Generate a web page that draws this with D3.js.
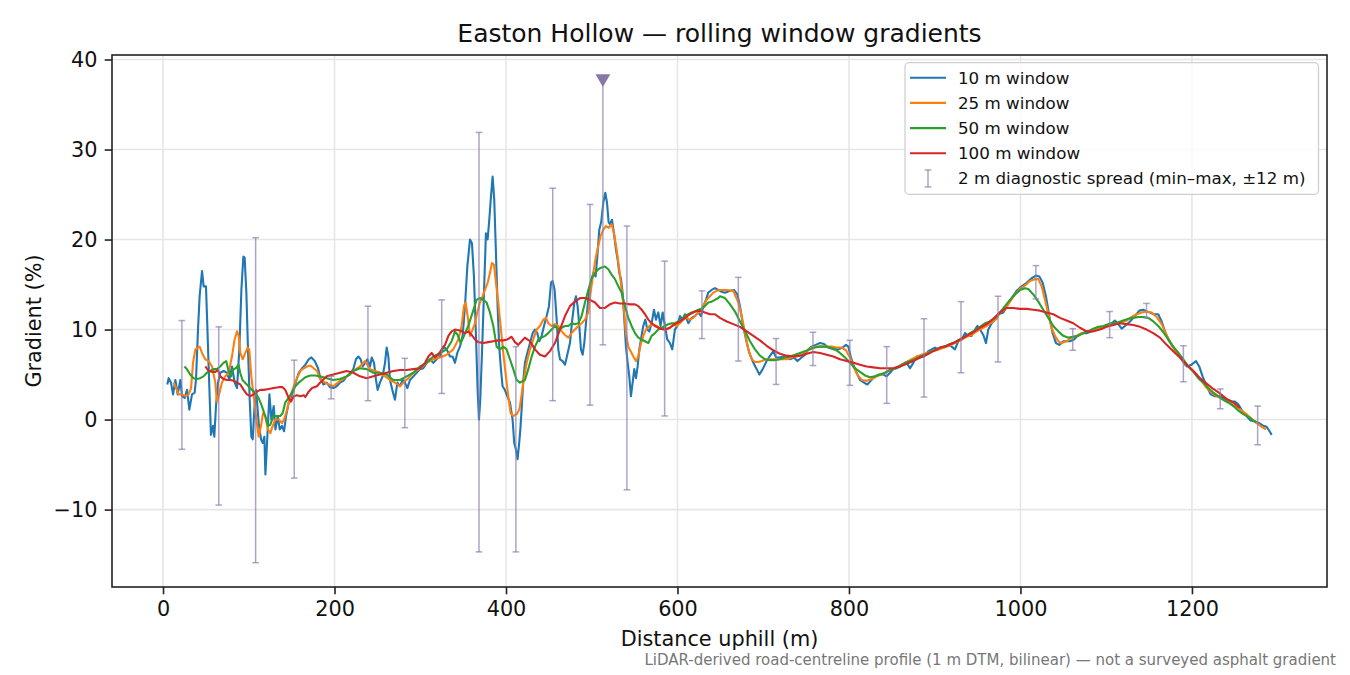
<!DOCTYPE html>
<html>
<head>
<meta charset="utf-8">
<script src="https://cdn.jsdelivr.net/npm/d3@7"></script>
<style>
  body { margin: 0; background: #fff; }
  svg { display: block; }
  text { font-family: "DejaVu Sans", sans-serif; }
</style>
</head>
<body>
<div id="chart"></div>
<script>
"use strict";

// ---- data: [distance m, gradient %] ----
var win10 = [[5,3.9],[6.6,4.6],[9.3,4.1],[11.7,2.8],[14.4,4.4],[17.1,2.8],[20.2,4.4],[22.2,2.6],[25.3,2.4],[28,3.3],[30.7,1.1],[33.8,2.8],[36.9,3.0],[38.5,4.5],[40.8,10],[42.7,13.7],[45.5,16.5],[47.4,14.8],[50.1,14.8],[51.3,11.5],[53.2,5.9],[55.9,-1.7],[58.3,-0.7],[59.8,-1.9],[61.8,1.5],[64.1,4.1],[66.8,5.2],[70.7,5.4],[74.6,5.2],[77.3,4.4],[80.5,5.9],[83.6,4.1],[86.3,3.5],[89,7.8],[91.4,14.4],[93.7,18.1],[95.2,18],[97.2,14.1],[99.1,7.8],[101.1,2.2],[103,-1.9],[104.6,-2.2],[106.5,1.1],[108.5,3.3],[111.6,-0.4],[114.3,-2.2],[116.3,-2.6],[118.2,-1.9],[119.4,-6.1],[121.3,-2.6],[124.1,2.8],[126.4,0],[129.1,1.5],[131.1,-1.1],[133.8,0.4],[136.1,-1.1],[138.8,-0.7],[141.2,-1.3],[143.5,0.4],[146.6,1.9],[149.7,2.6],[152.5,3.3],[155.6,4.4],[158.3,5.2],[162.2,5.7],[166.1,6.1],[169.9,6.7],[173,6.9],[176.9,6.5],[180.8,5.7],[183.5,4.6],
  [187,3.9],[190.9,4.1],[194.7,3.6],[198.6,3.5],[202.5,3.7],[206.4,4.1],[210.3,4.3],[214.2,4.8],[218.1,5.0],[221.9,5.6],[225,6.7],[227.8,7.0],[230.5,6.7],[232.8,5.9],[235.6,6.3],[238.3,6.7],[241.4,5.9],[243.4,6.9],[246.1,6.3],[248.4,4.4],[250.3,3.3],[253,4.1],[256.1,4.8],[258.9,6.3],[260.8,8.0],[262.8,7.0],[264.7,4.4],[267.4,3.3],[270.5,2.2],[273.3,4.1],[276.4,3.7],[279.5,4.4],[282.2,4.1],[284.9,3.5],[288,4.4],[291.9,4.8],[295.8,5.2],[299.7,5.6],[303.6,5.7],[307.5,6.3],[311.3,6.7],[315.2,6.3],[319.1,6.7],[323,7.0],[326.9,8.1],[330.8,7.8],[334.7,7.0],[337.8,7.0],[340.5,6.3],[343.2,7.4],[346.3,8.1],[349.4,9.3],[352.2,12.6],[354.9,17],[358,20],[360.3,19.6],[362.6,15.9],[365,9.3],[366.9,3.3],[368.5,0],[370,2.2],[372.4,8.5],[374.7,15.2],[376.6,20.7],[378.6,20],[380.5,22.2],[382.5,24.8],[384.4,27],[386.3,24.4],[388.3,18.5],[390.2,12.6],[392.1,8.1],[394.1,5.6],[396,3.7],[398.7,3.3],[401.4,2.6],[404.6,1.9],[407.7,0],[409.6,-2.6],[411.5,-3.3],[413.5,-4.4],[415.4,-2.6],
  [416.8,-1.0],[418.2,1.1],[420.2,4.4],[422.1,6.3],[424.9,7.4],[428,8.5],[431.1,9.6],[433.8,10],[436.5,9.6],[438.8,8.7],[441.6,9.3],[444.3,10.4],[447.4,11.5],[450.1,12.6],[452.5,15.2],[454.4,15.4],[456.7,14.4],[459.1,11.1],[461,7.8],[463,6.7],[466.1,6.5],[468.8,6.1],[471.5,7.2],[474.6,8.5],[477.3,11.1],[479.7,13],[481.6,13.7],[483.5,12.6],[485.5,10.4],[487.4,7.8],[489.4,7.2],[491.3,8.5],[494,11.5],[496.8,14.1],[499.1,15.2],[501.8,16.3],[504.5,15.9],[506.5,18.1],[508.8,21.1],[511.1,22],[513.5,24.1],[515.8,25.2],[517.8,24.1],[519.7,21.9],[521.2,21.7],[523.6,22.2],[525.9,20.7],[528.2,18.9],[530.2,17.8],[532.1,16.3],[534.1,15.6],[536,14.1],[538,11.1],[539.9,8.1],[541.9,6.3],[543.8,4.8],[545.7,2.6],[547.7,4.1],[549.6,5.6],[551.6,4.6],[553.5,5.9],[555.5,7.8],[557.4,8.9],[560.1,10.4],[562.5,11.1],[564.8,10],[567.1,9.8],[569.8,10.7],[572.6,12.2],[574.9,11.1],[577.6,11.9],[580.3,10.4],[582.7,11.9],[585.4,10.4],[588.1,8.9],[591.2,8.5],[593.9,7.8],[597,10],[599.8,10.4],[602.9,11.5],[605.6,11.1],[608.7,11.7],[612.6,10.7],[616.5,11.3],[620.4,11.5],[624.3,11.9],[627.4,11.5],[630.1,12.6],[633.2,13.3],[635.9,14.1],[639.8,14.4],[643.7,14.6],[647.6,14.4],
  [651.5,14.2],[655.4,14.1],[661.3,14.3],[665.9,14.4],[669.8,13.9],[672.9,12.6],[676,10.7],[679.9,8.9],[683.8,7.4],[688.5,6.3],[692.4,5.6],[695.5,5.0],[699.4,5.6],[704,6.5],[708.7,7.2],[711.8,7.6],[714.9,6.9],[718.8,6.9],[723.5,7.0],[727.3,6.9],[731.2,6.7],[735.9,6.9],[739.8,6.5],[744.8,6.9],[748.7,7.2],[752.6,7.8],[756.5,8.1],[761.2,8.3],[766.2,8.5],[770.9,8.4],[775.9,8.0],[781.8,7.8],[787.6,7.8],[792.6,8.0],[796.5,8.3],[799.3,8.1],[802,7.0],[805.1,6.1],[809,5.2],[812.9,4.4],[817.5,4.1],[821.4,3.9],[825.3,4.3],[830.3,4.8],[835.4,5.0],[840.1,5.0],[843.9,4.8],[847.8,5.2],[851.7,5.6],[855.6,5.7],[859.5,5.9],[863.4,6.1],[867.3,6.3],[871.2,5.7],[875,6.3],[878.9,7.0],[882.8,6.9],[887.5,7.0],[892.5,7.6],[896.4,7.8],[900.3,8.0],[904.2,7.8],[908.1,8.0],[912,8.1],[915.9,8.3],[919.7,8.1],[923.6,7.8],[927.5,8.7],[931.4,8.9],[935.3,9.6],[939.2,9.3],[943.1,9.3],[947,10],[949.7,10.4],[952.8,10],[956.7,9.4],[959.8,8.5],[962.5,10],[966.4,10.7],[970.3,11.1],[974.2,11.7],
  [980,11.9],[983.9,12.6],[989.7,13.5],[995.5,14.3],[1001.4,14.8],[1007.2,15.2],[1013,15.7],[1018.1,16.0],[1022,15.9],[1025.9,15.2],[1029.7,13.7],[1033.6,11.5],[1037.5,9.6],[1041.4,8.5],[1045.3,8.3],[1050,8.7],[1053.8,8.7],[1057.7,8.7],[1062.4,8.9],[1067.4,9.4],[1072.5,9.6],[1077.2,9.6],[1083,9.8],[1088.8,10],[1094.7,10.1],[1100.5,10.4],[1106.3,10.7],[1110.2,11],[1114.1,10.6],[1118,10.1],[1121.9,10.4],[1127.7,10.9],[1133.5,11.5],[1138.6,12.1],[1143.2,12.2],[1147.1,12],[1151,11.9],[1155.7,11.7],[1160.7,11.7],[1164.6,10.9],[1168.5,9.8],[1172.4,8.9],[1176.3,8.3],[1180.2,7.8],[1184.1,7.4],[1189.1,6.5],[1193.8,5.9],[1199.6,6.1],[1204.7,6.5],[1208.5,5.9],[1212.4,4.8],[1217.1,3.7],[1221.8,2.8],[1226.8,2.6],[1231.9,2.6],[1236.5,2.4],[1241.2,2.2],[1246.2,2.0],[1250.1,2.0],[1254,1.7],[1259.1,0.9],[1263.7,0.4],[1268.4,-0.1],[1273.4,-0.2],[1278.5,-0.4],[1283.2,-0.7],[1287.1,-0.8],[1290.5,-1.3],[1293,-1.7]];

var win25 = [[12.5,4.1],[14.4,3.7],[18.3,2.8],[22.2,2.8],[26.1,2.6],[29.9,2.8],[32.7,3.5],[35,6.3],[37.7,7.8],[40.8,8.0],[42.7,8.1],[45.5,7.4],[49.3,6.7],[53.2,6.5],[57.1,5.9],[61,4.1],[62.9,2.0],[64.9,2.6],[68.7,4.1],[72.6,4.8],[76.5,5.2],[80.4,7.0],[83.5,8.9],[86.3,9.8],[88.2,9.3],[90.1,7.4],[92.9,6.7],[96,7.4],[98.7,8.0],[100.6,7.8],[103,4.8],[105.7,2.6],[108.4,0.4],[111.5,-1.9],[114.3,-0.7],[116.6,0.7],[119.3,0.4],[122.4,-1.1],[125.2,-1.5],[127.9,-0.7],[131,0],[134.9,0],[138.8,-0.4],[141.9,0.2],[144.6,1.1],[148.5,2.6],[152.4,3.7],[156.3,4.6],[160.2,5.4],[164.1,5.7],[168,5.9],[171.8,6.0],[175.7,5.7],[179.6,5.4],
  [183.1,4.5],[190.9,4.0],[198.6,3.7],[206.4,4.3],[214.2,4.8],[221.9,5.4],[229.7,5.9],[235.6,6.5],[241.4,5.6],[247.2,5.4],[253,5.2],[258.9,4.8],[264.7,4.4],[270.5,4.1],[276.4,3.7],[280.3,4.1],[286.1,4.6],[291.9,5.2],[299.7,5.7],[307.5,6.3],[315.2,6.7],[323,6.9],[330.8,7.2],[338.5,7.8],[344.4,8.9],[348.3,10.4],[351,12.6],[352.9,13.0],[355.3,11.5],[358,9.3],[361.1,10.0],[363.8,10.7],[366.5,11.9],[369.6,13.0],[372.7,13.7],[375.5,14.4],[378.6,15.2],[381.3,16.3],[383.6,17.4],[386,17.2],[388.3,15.2],[391,13.0],[393.7,10.4],[396.8,7.4],[399.9,4.8],[402.6,2.6],[405.4,0.7],[408.5,0.4],[412.4,0.6],[415.4,1.1],
  [416.3,1.5],[420.2,4.1],[424.1,6.3],[428,7.8],[431.8,8.9],[435.7,10.0],[439.6,10.4],[443.5,11.1],[446.6,11.3],[449.3,10.7],[453.2,10.4],[457.1,10.6],[461,10.4],[464.9,9.8],[468.8,9.4],[472.7,9.1],[476.5,9.6],[480.4,10.0],[484.3,10.4],[488.2,10.7],[492.1,11.1],[496,11.9],[498.7,14.1],[501.8,16.3],[504.9,18.1],[507.6,19.3],[510.4,20.4],[513.5,21.1],[516.6,21.5],[519.7,21.3],[523.2,21.7],[525.9,20.7],[529,18.9],[532.1,16.7],[534.9,14.4],[537.6,12.2],[539.9,9.6],[542.6,8.1],[545.4,7.6],[548.5,7.0],[551.6,6.5],[554.3,7.0],[557,8.3],[560.1,9.3],[563.2,10.0],[567.1,10.4],[571,10.6],[575.7,10.4],[579.6,10.2],[583.4,10.0],[587.3,10.0],[591.2,10.2],[595.1,10.6],[599,10.4],[602.9,10.7],[606.8,11.1],[610.7,11.3],[614.5,11.1],[618.4,11.3],[622.3,11.7],[626.2,12.0],[630.1,12.6],[634,13.3],[637.9,13.7],[641.7,14.1],[645.6,14.3],
  [649.6,14.4],[657.4,14.4],[665.1,14.3],[671,13.0],[674.9,11.5],[678.8,9.6],[682.6,7.8],[686.5,6.7],[690.4,6.4],[694.3,6.4],[698.2,6.5],[704,6.7],[709.8,6.7],[715.7,6.7],[721.5,6.7],[727.3,6.7],[733.2,6.9],[739,7.0],[744.8,7.2],[750.7,7.6],[756.5,8.0],[762.3,8.1],[768.2,8.1],[774,8.1],[779.8,8.1],[785.6,8.0],[791.5,8.0],[796.5,7.7],[801.2,6.9],[805.1,5.9],[809.7,5.0],[814.8,4.4],[820.6,4.3],[826.5,4.5],[832.3,4.8],[838.1,5.0],[843.9,5.3],[849.8,5.6],[855.6,5.8],[861.4,6.1],[867.3,6.4],[873.1,6.7],[878.9,7.0],[884.8,7.2],[890.6,7.4],[896.4,7.6],[902.3,7.7],[908.1,7.9],[913.9,8.1],[919.7,8.3],[925.6,8.6],[931.4,8.9],[937.2,9.2],[943.1,9.4],[948.9,9.8],[954.7,10.1],[960.6,10.4],[966.4,10.8],[972.2,11.2],
  [976.1,11.9],[981.9,12.2],[987.8,13.1],[993.6,13.9],[999.4,14.5],[1005.3,14.9],[1011.1,15.4],[1016.9,15.6],[1020.8,15.6],[1024.7,14.8],[1028.6,13.3],[1032.5,11.7],[1036.3,10.2],[1040.2,9.3],[1044.1,8.7],[1048,8.5],[1053.8,8.7],[1059.7,9.1],[1065.5,9.3],[1071.3,9.6],[1077.2,9.8],[1083,9.9],[1088.8,10.1],[1094.7,10.2],[1100.5,10.4],[1106.3,10.6],[1112.1,10.7],[1118,10.8],[1123.8,11.0],[1129.6,11.4],[1135.5,11.7],[1141.3,11.9],[1147.1,12.0],[1153,11.9],[1158.8,11.4],[1164.6,10.6],[1170.5,9.4],[1176.3,8.3],[1182.1,7.4],[1187.9,6.7],[1193.8,6.1],[1199.6,5.6],[1205.4,5.0],[1211.3,4.3],[1217.1,3.5],[1222.9,3.0],[1228.8,2.6],[1234.6,2.3],[1240.4,2.0],[1246.3,1.7],[1252.1,1.4],[1257.9,1.0],[1263.7,0.6],[1269.6,0.1],[1275.4,-0.4],[1281.2,-0.8],[1286.5,-1.1]];

var win50 = [[25,5.9],[27.8,5.6],[31.7,5.0],[35.6,4.6],[39.5,4.5],[43.3,4.6],[47.2,4.8],[51.1,5.2],[55,5.4],[58.9,5.6],[62.8,5.6],[66.7,5.9],[70.5,6.3],[73.7,6.5],[76.4,5.4],[79.5,4.8],[82.2,5.6],[84.9,5.7],[88.1,6.1],[90,5.2],[92.7,4.4],[95.8,4.1],[99.7,3.7],[103.6,3.3],[107.5,3.0],[111.4,2.4],[115.3,1.5],[119.2,0.4],[122.3,-0.7],[125,-0.6],[128.9,0.4],[132.8,0.4],[136.7,0.4],[139.5,0.7],[142.6,1.9],[146.5,2.4],[150.4,3.0],[154.3,3.7],[158.2,4.1],[162.1,4.4],[166,4.7],[171.8,4.9],[177.7,4.9],
  [183.1,4.8],[190.9,4.6],[198.6,4.4],[206.4,4.5],[214.2,4.8],[221.9,5.4],[229.7,5.7],[237.5,5.6],[245.3,5.2],[253,5.2],[260.8,5.0],[268.6,4.4],[276.4,4.4],[284.1,4.8],[291.9,5.2],[299.7,5.9],[307.5,6.3],[315.2,7.0],[323,7.4],[330.8,7.8],[336.6,8.7],[340.5,9.8],[343.6,9.4],[347.1,8.5],[351,9.3],[356,10.4],[361.1,11.9],[365.7,13.3],[369.6,13.5],[373.5,13.3],[377.4,13.0],[381.3,11.9],[385.2,10.4],[389.1,8.1],[392.9,7.8],[396.8,8.1],[400.7,7.8],[404.6,6.7],[408.5,5.6],[412.4,4.4],[416.3,4.1],
  [422.1,4.4],[426,5.6],[429.9,7.0],[433.8,8.1],[437.7,8.9],[441.6,9.1],[445.5,9.3],[449.3,9.6],[453.2,10.0],[457.1,10.4],[461,10.0],[464.9,10.2],[468.8,10.4],[472.7,10.4],[476.5,10.7],[480.4,10.6],[484.3,10.7],[488.2,11.5],[492.1,13.0],[496,14.4],[499.9,15.7],[503.8,16.3],[507.6,16.7],[511.5,16.9],[515.4,17.0],[519.3,16.7],[523.2,16.1],[527.1,15.6],[531,14.8],[534.9,14.1],[538.7,12.6],[542.6,11.3],[546.5,10.4],[550.4,9.6],[554.3,9.1],[558.2,8.9],[562.1,8.7],[566,8.5],[569.8,9.3],[573.7,9.6],[577.6,10.0],[581.5,10.2],[585.4,10.4],[589.3,10.6],[593.2,10.7],[597,10.7],[600.9,10.9],[604.8,11.1],[608.7,11.5],[612.6,11.7],[616.5,11.9],[620.4,12.0],[624.3,12.2],[628.1,12.3],[632,12.6],[635.9,13.0],[639.8,13.1],[643.7,13.3],[647.6,13.5],
  [649.6,13.7],[655.4,13.5],[661.3,12.8],[667.1,12.0],[672.9,10.9],[678.8,9.8],[684.6,8.7],[690.4,7.8],[696.2,7.1],[702.1,6.7],[707.9,6.6],[713.7,6.6],[719.6,6.7],[725.4,6.9],[731.2,7.0],[737.1,7.2],[742.9,7.4],[748.7,7.6],[754.5,7.8],[760.4,8.0],[766.2,8.1],[772,8.1],[777.9,8.0],[783.7,7.8],[789.5,7.4],[795.4,6.9],[801.2,6.3],[807,5.7],[812.9,5.3],[818.7,4.9],[824.5,4.7],[830.3,4.8],[836.2,5.0],[842,5.2],[847.8,5.5],[853.7,5.7],[859.5,6.0],[865.3,6.3],[871.2,6.5],[877,6.7],[882.8,7.0],[888.7,7.2],[894.5,7.5],[900.3,7.7],[906.1,8.0],[912,8.1],[917.8,8.4],[923.6,8.6],[929.5,8.9],[935.3,9.2],[941.1,9.6],[947,9.9],[952.8,10.3],[958.6,10.7],[964.5,10.9],[970.3,11.3],
  [976.1,11.9],[981.9,12.6],[987.8,13.3],[993.6,13.9],[999.4,14.4],[1005.3,14.6],[1009.1,14.5],[1015,13.9],[1020.8,13.1],[1026.6,12.2],[1032.5,11.3],[1038.3,10.4],[1044.1,9.8],[1050,9.3],[1055.8,9.1],[1061.6,9.2],[1067.4,9.3],[1073.3,9.6],[1079.1,9.8],[1084.9,10.1],[1090.8,10.3],[1096.6,10.4],[1102.4,10.6],[1108.3,10.7],[1114.1,10.8],[1119.9,11.0],[1125.8,11.2],[1131.6,11.3],[1137.4,11.4],[1143.2,11.4],[1149.1,11.3],[1154.9,10.9],[1160.7,10.4],[1166.6,9.7],[1172.4,8.9],[1178.2,8.1],[1184.1,7.4],[1189.9,6.7],[1195.7,5.9],[1201.6,5.3],[1207.4,4.6],[1213.2,4.1],[1219,3.5],[1224.9,3.0],[1230.7,2.6],[1236.5,2.2],[1242.4,1.9],[1248.2,1.5],[1254,1.0],[1259.9,0.6],[1265.7,0.3],[1271.5,-0.1],[1275,-0.3]];

var win100 = [[49.3,5.9],[53.2,5.4],[57.1,5.3],[61,5.3],[64.1,5.5],[66.8,4.8],[70.7,4.5],[74.6,4.4],[78.5,4.4],[82.4,4.3],[86.3,4.1],[90.2,3.9],[94.1,3.3],[97.9,2.8],[101.8,2.6],[105.7,2.8],[109.6,3.1],[113.5,3.3],[117.4,3.3],[123.2,3.4],[129,3.5],[134.9,3.6],[139.5,3.6],[142.6,3.3],[146.5,2.4],[149.3,2.0],[152.4,2.6],[156.3,2.7],[160.2,2.6],[164.1,2.7],[166,2.5],[169.9,3.1],[173.8,3.5],[179.6,3.7],
  [183.1,4.1],[190.9,4.8],[198.6,5.0],[206.4,5.2],[214.2,5.4],[221.9,5.2],[229.7,4.8],[237.5,4.6],[245.3,4.8],[253,5.0],[260.8,5.2],[268.6,5.4],[276.4,5.5],[284.1,5.5],[291.9,5.6],[299.7,5.7],[305.6,6.3],[309.5,7.0],[313.3,7.4],[317.2,6.9],[321.1,7.2],[325,7.8],[328.9,8.3],[332.8,9.3],[336.6,9.8],[340.5,10.0],[346.3,9.9],[352.2,9.6],[356,9.8],[359.9,9.4],[363.8,8.9],[367.7,8.6],[373.5,8.5],[379.4,8.6],[385.2,8.7],[391,8.8],[396.8,8.8],[401.5,8.9],[406.5,9.2],[410.4,8.6],[414.3,8.3],
  [416.3,8.5],[422.1,9.1],[428,8.7],[433.8,7.8],[439.6,7.2],[445.5,7.0],[451.3,7.6],[457.1,8.5],[462.9,10.0],[468.8,11.5],[474.6,12.6],[480.4,13.1],[486.3,13.5],[492.1,13.5],[497.9,13.3],[503.8,13.0],[509.6,12.4],[515.4,12.4],[521.2,12.8],[527.1,13.0],[532.9,12.9],[538.7,12.9],[544.6,12.8],[550.4,12.8],[554.3,12.6],[558.2,12.2],[562.1,11.7],[566,11.1],[569.8,10.7],[573.7,10.4],[579.6,10.1],[585.4,10.0],[591.2,10.2],[597,10.6],[602.9,10.9],[608.7,11.3],[614.5,11.7],[620.4,12.0],[626.2,12.1],[632,11.9],[637.9,11.7],[643.7,11.7],[649.5,11.3],
  [657.4,10.9],[665.1,10.6],[672.9,10.3],[680.7,9.8],[688.5,9.3],[696.2,8.8],[704,8.2],[711.8,7.7],[719.6,7.3],[727.3,7.1],[735.1,7.0],[742.9,7.1],[750.7,7.3],[758.4,7.5],[766.2,7.4],[774,7.2],[781.8,7.0],[789.5,6.7],[797.3,6.5],[805.1,6.3],[812.9,6.1],[820.6,5.9],[828.4,5.8],[836.2,5.7],[844,5.7],[851.7,5.7],[859.5,5.9],[867.3,6.2],[875,6.5],[882.8,6.9],[890.6,7.2],[898.4,7.6],[906.1,8.0],[913.9,8.2],[921.7,8.5],[929.5,8.9],[937.2,9.3],[945,9.7],[952.8,10.2],[960.6,10.6],[968.3,11.2],[976.1,11.9],
  [983.9,12.4],[991.6,12.4],[999.4,12.3],[1007.2,12.3],[1015,12.2],[1022.7,12.1],[1030.5,11.9],[1038.3,11.7],[1046.1,11.3],[1053.8,11.0],[1061.6,10.7],[1069.4,10.2],[1077.2,9.8],[1084.9,9.8],[1092.7,10.0],[1100.5,10.3],[1108.3,10.5],[1116,10.7],[1123.8,10.6],[1131.6,10.5],[1139.4,10.3],[1147.1,10.0],[1154.9,9.6],[1162.7,9.1],[1170.5,8.3],[1178.2,7.6],[1186,6.9],[1193.8,6.1],[1201.6,5.4],[1209.3,4.6],[1217.1,4.0],[1224.9,3.4],[1232.6,2.9],[1240.4,2.3],[1248.2,1.9],[1256,1.3]];

// 2 m diagnostic spread, min/max over +-12 m
var spreadDist = [22, 65, 108, 153, 196, 239, 282, 325, 368.5, 411.5, 454.5, 498, 513, 541, 585, 628.5, 671, 715, 758, 801, 844, 887.5, 930.6, 973.8, 1018, 1061, 1104, 1147, 1190, 1233, 1276.6];
var spreadMin  = [-3.3, -9.5, -15.9, -6.5, 2.3, 2.1, -0.9, 2.9, -14.7, -14.7, 2.1, 1.6, 8.3, -7.8, 0.4, 9.0, 6.5, 3.9, 6.0, 3.8, 1.8, 2.5, 5.2, 6.4, 13.4, 7.7, 9.1, 11.3, 4.2, 1.2, -2.8];
var spreadMax  = [11.0, 10.3, 20.2, 6.6, 4.8, 12.6, 6.8, 13.3, 31.9, 8.1, 25.7, 23.9, 37.9, 21.5, 17.6, 14.3, 15.8, 9.0, 9.7, 8.8, 8.1, 11.2, 13.1, 13.7, 17.1, 10.1, 12.0, 12.9, 8.2, 3.4, 1.5];
// spread that runs off the top: marked with a triangle
var clippedDist = [513];
var clippedAt = [37.9];

var series = [
  {name: "10 m window", data: win10, color: "#1f77b4"},
  {name: "25 m window", data: win25, color: "#ff7f0e"},
  {name: "50 m window", data: win50, color: "#2ca02c"},
  {name: "100 m window", data: win100, color: "#d62728"}
];
var xTicks = [0, 200, 400, 600, 800, 1000, 1200];
var yTicks = [-10, 0, 10, 20, 30, 40];

var W = 1350, H = 675;
var plot = {left: 112, right: 1327, top: 55, bottom: 587};
var spreadColor = "#8c7db0";

var svg = d3.select("#chart").append("svg")
    .attr("width", W).attr("height", H);

var x = d3.scaleLinear().domain([-59.5, 1357.5]).range([plot.left, plot.right]);
var y = d3.scaleLinear().domain([-18.6, 40.5]).range([plot.bottom, plot.top]);

// grid
var grid = svg.append("g").attr("stroke", "#e6e6e6").attr("stroke-width", 1.6);
grid.selectAll("line.gx").data(xTicks).enter().append("line")
    .attr("x1", d => x(d)).attr("x2", d => x(d))
    .attr("y1", plot.top).attr("y2", plot.bottom);
grid.selectAll("line.gy").data(yTicks).enter().append("line")
    .attr("y1", d => y(d)).attr("y2", d => y(d))
    .attr("x1", plot.left).attr("x2", plot.right);

svg.append("clipPath").attr("id", "clip").append("rect")
    .attr("x", plot.left).attr("y", plot.top)
    .attr("width", plot.right - plot.left).attr("height", plot.bottom - plot.top);

var inner = svg.append("g").attr("clip-path", "url(#clip)");

var line = d3.line().x(d => x(d[0])).y(d => y(d[1]));
inner.selectAll("path.win").data(series).enter().append("path")
    .attr("class", "win")
    .attr("d", d => line(d.data))
    .attr("fill", "none")
    .attr("stroke", d => d.color)
    .attr("stroke-width", 2.1)
    .attr("stroke-linejoin", "round");

// error bars
var spreads = spreadDist.map(function(d, i) { return {x: d, lo: spreadMin[i], hi: spreadMax[i]}; });
var eb = inner.append("g").attr("stroke", spreadColor).attr("stroke-opacity", 0.7).attr("stroke-width", 1.5);
eb.selectAll("line.bar").data(spreads).enter().append("line")
    .attr("x1", d => x(d.x)).attr("x2", d => x(d.x))
    .attr("y1", d => y(d.lo)).attr("y2", d => y(d.hi));
var cap = 3.3;
eb.selectAll("line.lo").data(spreads).enter().append("line")
    .attr("x1", d => x(d.x) - cap).attr("x2", d => x(d.x) + cap)
    .attr("y1", d => y(d.lo)).attr("y2", d => y(d.lo));
eb.selectAll("line.hi").data(spreads).enter().append("line")
    .attr("x1", d => x(d.x) - cap).attr("x2", d => x(d.x) + cap)
    .attr("y1", d => y(d.hi)).attr("y2", d => y(d.hi));

var tri = d3.symbol().type(d3.symbolTriangle).size(95);
inner.selectAll("path.clip").data(clippedDist).enter().append("path")
    .attr("d", tri)
    .attr("transform", (d, i) => "translate(" + x(d) + "," + y(clippedAt[i]) + ") rotate(180)")
    .attr("fill", "#8878aa");

// axes
var fs = 20.8;
var xAxis = svg.append("g").attr("transform", "translate(0," + plot.bottom + ")")
    .call(d3.axisBottom(x).tickValues(xTicks).tickFormat(d3.format("d"))
      .tickSize(7.3).tickPadding(7.3).tickSizeOuter(0));
var yAxis = svg.append("g").attr("transform", "translate(" + plot.left + ",0)")
    .call(d3.axisLeft(y).tickValues(yTicks).tickFormat(d3.format("d"))
      .tickSize(7.3).tickPadding(7.3).tickSizeOuter(0));
[xAxis, yAxis].forEach(function(a) {
  a.select(".domain").remove();
  a.selectAll(".tick line").attr("stroke", "#222").attr("stroke-width", 1.6);
  a.selectAll(".tick text").attr("fill", "#111").style("font-size", fs + "px")
      .style("font-family", '"DejaVu Sans", sans-serif');
});

svg.append("rect")
    .attr("x", plot.left).attr("y", plot.top)
    .attr("width", plot.right - plot.left).attr("height", plot.bottom - plot.top)
    .attr("fill", "none").attr("stroke", "#222").attr("stroke-width", 1.6);

// labels
svg.append("text").attr("x", (plot.left + plot.right) / 2).attr("y", 42)
    .attr("text-anchor", "middle").style("font-size", "25px").attr("fill", "#111")
    .text("Easton Hollow \u2014 rolling window gradients");
svg.append("text").attr("x", (plot.left + plot.right) / 2).attr("y", 646)
    .attr("text-anchor", "middle").style("font-size", fs + "px").attr("fill", "#111")
    .text("Distance uphill (m)");
svg.append("text")
    .attr("transform", "translate(41," + (plot.top + plot.bottom) / 2 + ") rotate(-90)")
    .attr("text-anchor", "middle").style("font-size", fs + "px").attr("fill", "#111")
    .text("Gradient (%)");
svg.append("text").attr("x", 1336).attr("y", 665)
    .attr("text-anchor", "end").style("font-size", "15px").attr("fill", "#777")
    .text("LiDAR-derived road-centreline profile (1 m DTM, bilinear) \u2014 not a surveyed asphalt gradient");

// legend
var leg = svg.append("g");
leg.append("rect").attr("x", 905).attr("y", 62.7).attr("width", 413.5).attr("height", 131.6)
    .attr("rx", 4).attr("fill", "#fff").attr("fill-opacity", 0.8)
    .attr("stroke", "#d0d0d0").attr("stroke-width", 1.3);
var rowY = [77.7, 102.9, 128.1, 153.3, 178.5];
series.forEach(function(s, i) {
  leg.append("line").attr("x1", 910).attr("x2", 946).attr("y1", rowY[i]).attr("y2", rowY[i])
      .attr("stroke", s.color).attr("stroke-width", 2.1);
  leg.append("text").attr("x", 958).attr("y", rowY[i] + 5.8)
      .style("font-size", "16.7px").attr("fill", "#111").text(s.name);
});
var ly = rowY[4];
var lg = leg.append("g").attr("stroke", spreadColor).attr("stroke-opacity", 0.7).attr("stroke-width", 1.5);
lg.append("line").attr("x1", 928).attr("x2", 928).attr("y1", ly - 8.5).attr("y2", ly + 8.5);
lg.append("line").attr("x1", 928 - cap).attr("x2", 928 + cap).attr("y1", ly - 8.5).attr("y2", ly - 8.5);
lg.append("line").attr("x1", 928 - cap).attr("x2", 928 + cap).attr("y1", ly + 8.5).attr("y2", ly + 8.5);
leg.append("text").attr("x", 958).attr("y", ly + 5.8)
    .style("font-size", "16.7px").attr("fill", "#111")
    .text("2 m diagnostic spread (min\u2013max, \u00b112 m)");
</script>
</body>
</html>
